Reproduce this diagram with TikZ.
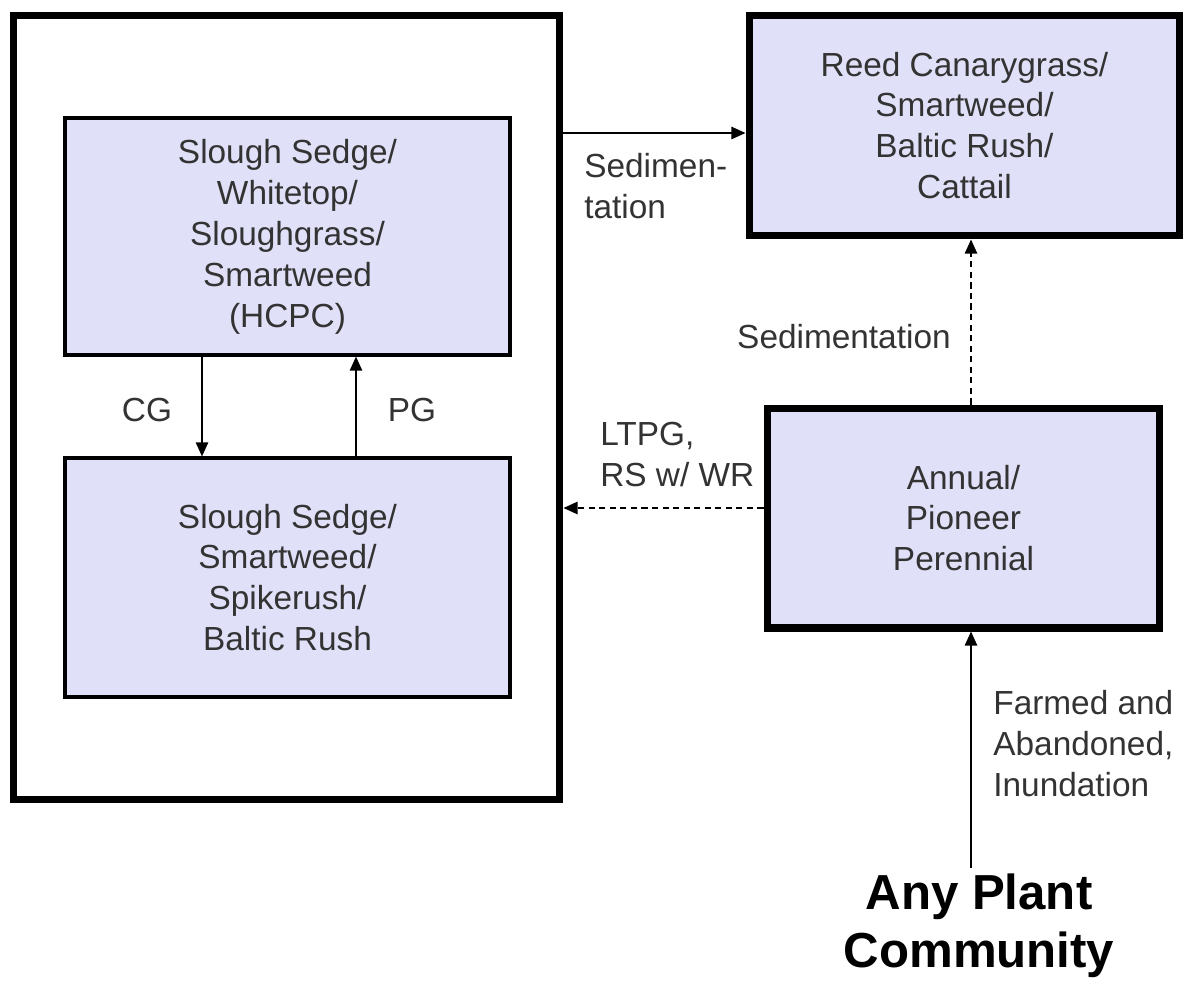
\documentclass[tikz,border=0pt]{standalone}
\usepackage{fontspec}
\setmainfont{Liberation Sans}
\usetikzlibrary{arrows.meta}
\usetikzlibrary{positioning}
\usetikzlibrary{calc}
\definecolor{statefill}{RGB}{224,224,248}

\begin{document}
\begin{tikzpicture}[
	x=0.02cm, y=-0.02cm,
	>={Triangle[length=8pt,width=7pt]}]

\tikzstyle{txt}=[text=black!80, font=\fontsize{19}{23.3}\selectfont]
\tikzstyle{state}=[draw, fill=statefill, line width=1.8pt, txt, align=center, inner sep=0pt]
\tikzstyle{major state}=[state, line width=4pt]
\tikzstyle{transition}=[draw, line width=0.9pt, ->]
\tikzstyle{unlikely}=[transition, dash pattern=on 3.5pt off 2.5pt]

\def\VLine{971}

\useasboundingbox (0,0) rectangle (1190,981);

% reference state, with its two communities
\node (outer) [draw, line width=4pt, minimum width=10.94cm,
	minimum height=15.7cm, inner sep=0pt] at (286.5,407.5) {};
\node (hcpc) [state, minimum width=8.9cm, minimum height=4.74cm] at (287.5,236.5)
	{Slough Sedge/\\Whitetop/\\Sloughgrass/\\Smartweed\\(HCPC)};
\node (spike) [state, minimum width=8.9cm, minimum height=4.78cm] at (287.5,577.5)
	{Slough Sedge/\\Smartweed/\\Spikerush/\\Baltic Rush};

% other states
\node (reed) [major state, minimum width=8.62cm, minimum height=4.42cm] at (964.5,125.5)
	{Reed Canarygrass/\\Smartweed/\\Baltic Rush/\\Cattail};
\node (annual) [major state, minimum width=7.86cm, minimum height=4.4cm] at (963.5,518)
	{Annual/\\Pioneer\\Perennial};

% starting point
\node (plant) [font=\bfseries\fontsize{28}{33}\selectfont, align=center]
	at (979,926) {Any Plant\\Community};

% helper coordinates for the connectors
\coordinate (vline) at (\VLine,0);
\coordinate (sedY) at (0,133);
\coordinate (ltpgY) at (0,508);
\coordinate (cgX) at (202,0);
\coordinate (pgX) at (356,0);

% community pathways
\draw[transition] (hcpc.south -| cgX) -- (spike.north -| cgX);
\draw[transition] (spike.north -| pgX) -- (hcpc.south -| pgX);
\node (cg) [txt] at (147,410) {CG};
\node (pg) [txt] at (412,410) {PG};

% sedimentation to reed canarygrass
\draw[transition] (outer.east |- sedY) -- (reed.west |- sedY);
\node (sed1) [txt, align=left, anchor=north west, inner sep=0pt] at (584,153) {Sedimen-\\tation};

\draw[unlikely] (annual.north -| vline) -- (reed.south -| vline);
\node (sed2) [txt, anchor=east, inner sep=0pt] at (951,337) {Sedimentation};

% annual back to reference
\draw[unlikely] (annual.west |- ltpgY) -- (outer.east |- ltpgY);
\node (ltpg) [txt, align=left, anchor=north west, inner sep=0pt] at (600,422) {LTPG,\\RS w/ WR};

% farmed and abandoned
\draw[transition] (plant.north -| vline) -- (annual.south -| vline);
\node (farm) [txt, align=left, anchor=north west, inner sep=0pt] at (993,690)
	{Farmed and\\Abandoned,\\Inundation};

\end{tikzpicture}
\end{document}
